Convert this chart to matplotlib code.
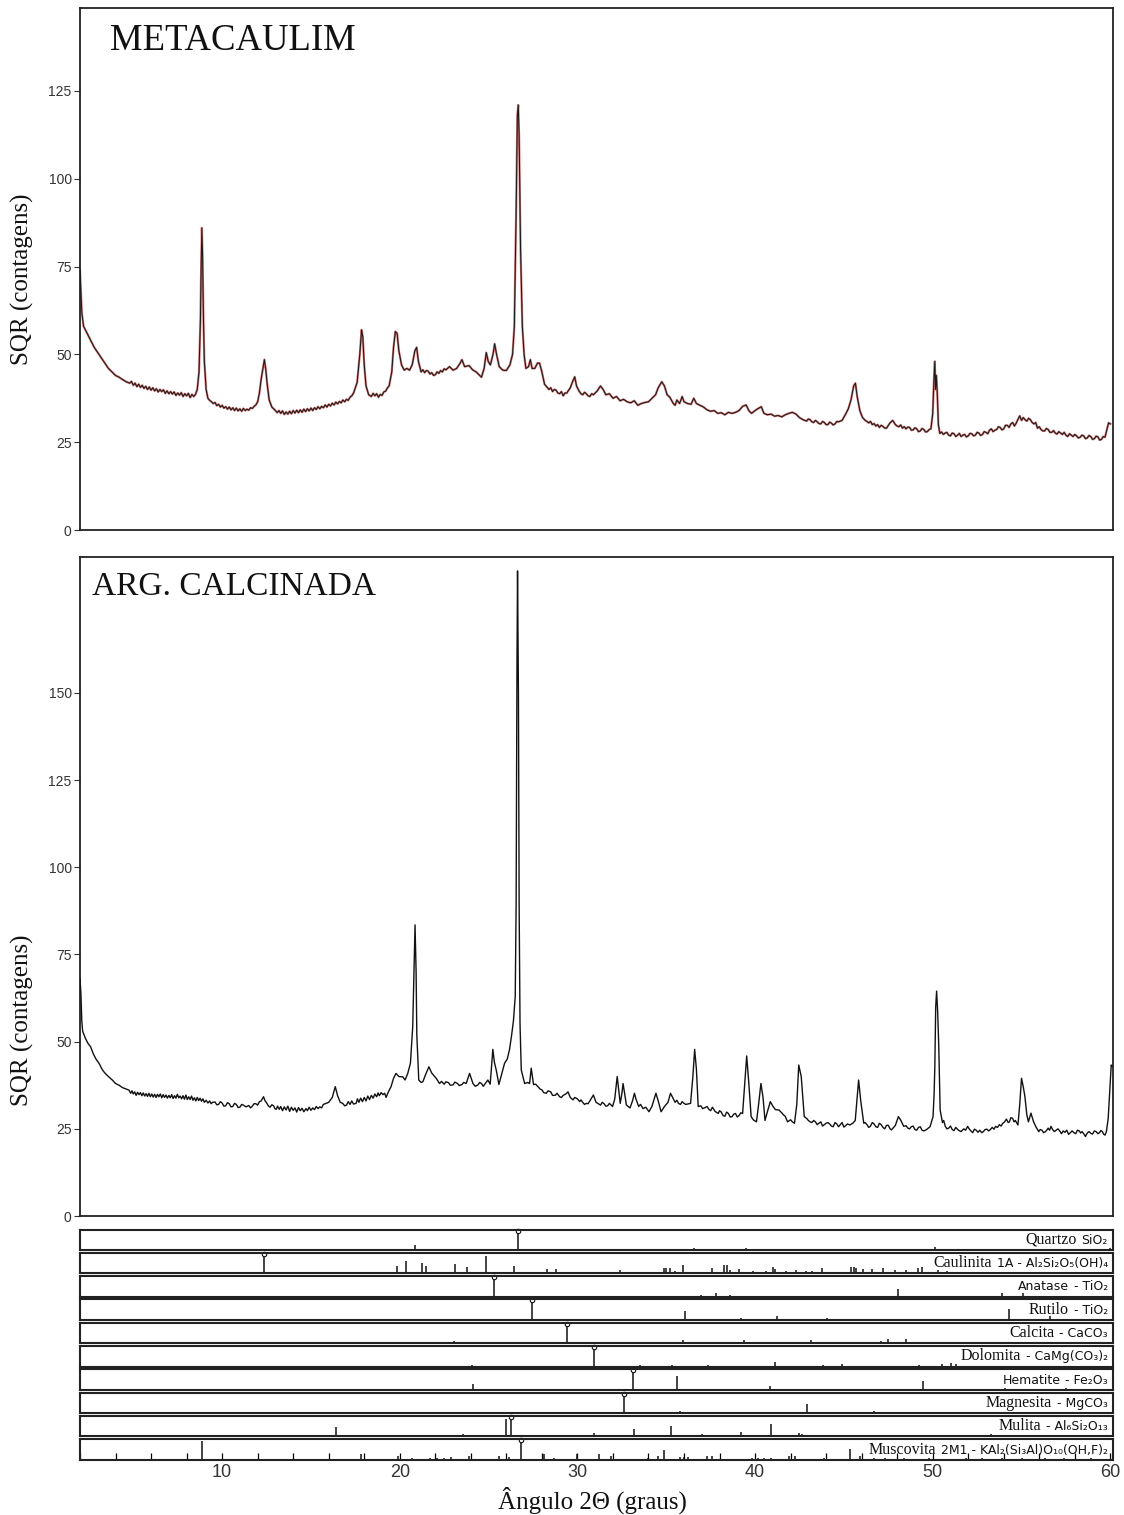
import matplotlib
matplotlib.use("Agg")
import matplotlib.pyplot as plt
from matplotlib.ticker import MultipleLocator

# ---------------- data: METACAULIM pattern (2theta, counts) ----------------
meta_pts = [
    (2.0, 74), (2.05, 68), (2.1, 62), (2.2, 58), (2.4, 56), (2.6, 54), (2.8, 52), (3.0, 50.5),
    (3.2, 49), (3.4, 47.5), (3.6, 46), (3.8, 45), (4.0, 44), (4.2, 43.5), (4.4, 42.8), (4.6, 42.2),
    (4.8, 41.8), (4.9, 42.3), (5.0, 41.2), (5.1, 41.8), (5.2, 40.8), (5.3, 41.5), (5.4, 40.6),
    (5.5, 41.2), (5.6, 40.3), (5.7, 40.9), (5.8, 40.0), (5.9, 40.7), (6.0, 39.8), (6.1, 40.5),
    (6.2, 39.6), (6.3, 40.2), (6.4, 39.3), (6.5, 40.0), (6.6, 39.4), (6.7, 39.9), (6.8, 38.9),
    (6.9, 39.6), (7.0, 38.8), (7.1, 39.4), (7.2, 38.7), (7.3, 39.3), (7.4, 38.3), (7.5, 39.0),
    (7.6, 38.4), (7.7, 39.1), (7.8, 38.0), (7.9, 38.8), (8.0, 38.2), (8.1, 38.9), (8.2, 37.7),
    (8.3, 38.6), (8.4, 38.0), (8.5, 38.6), (8.6, 40), (8.7, 45), (8.78, 60), (8.82, 75),
    (8.86, 86), (8.9, 78), (8.95, 60), (9.0, 48), (9.1, 40), (9.2, 37.5), (9.3, 36.9), (9.4, 36.5),
    (9.5, 36.0), (9.6, 36.3), (9.7, 35.4), (9.8, 35.8), (9.9, 35.0), (10.0, 35.5), (10.1, 34.7),
    (10.2, 35.1), (10.3, 34.4), (10.4, 35.0), (10.5, 34.2), (10.6, 34.8), (10.7, 34.0), (10.8, 34.7),
    (10.9, 33.9), (11.0, 34.5), (11.1, 33.8), (11.2, 34.6), (11.3, 34.0), (11.4, 34.4), (11.5, 34.1),
    (11.6, 34.8), (11.7, 34.6), (11.8, 35.2), (11.9, 35.6), (12.0, 36.5), (12.1, 39), (12.2, 43),
    (12.3, 46), (12.38, 48.5), (12.45, 46), (12.55, 41), (12.65, 37), (12.8, 35), (12.9, 34.5),
    (13.0, 34), (13.1, 33.4), (13.2, 34.0), (13.3, 33.2), (13.4, 33.9), (13.5, 32.9), (13.6, 33.6),
    (13.7, 33.0), (13.8, 33.8), (13.9, 33.1), (14.0, 34.0), (14.1, 33.3), (14.2, 34.1), (14.3, 33.4),
    (14.4, 34.2), (14.5, 33.5), (14.6, 34.4), (14.7, 33.7), (14.8, 34.5), (14.9, 33.9), (15.0, 34.7),
    (15.1, 34.0), (15.2, 34.8), (15.3, 34.3), (15.4, 35.1), (15.5, 34.5), (15.6, 35.2), (15.7, 34.8),
    (15.8, 35.6), (15.9, 35.0), (16.0, 35.8), (16.1, 35.3), (16.2, 36.1), (16.3, 35.6), (16.4, 36.4),
    (16.5, 35.9), (16.6, 36.6), (16.7, 36.2), (16.8, 37.0), (16.9, 36.5), (17.0, 37.2), (17.1, 36.9),
    (17.2, 37.8), (17.3, 38.2),
    (17.4, 39), (17.6, 42), (17.75, 50), (17.85, 57), (17.92, 55), (18.0, 47), (18.1, 41),
    (18.25, 38.5), (18.4, 38), (18.5, 38.9), (18.6, 38.2), (18.7, 38.8), (18.8, 37.8), (18.9, 38.6),
    (19.0, 38.3), (19.1, 39.3), (19.2, 39.5), (19.3, 40.4), (19.4, 41),
    (19.55, 45), (19.65, 52), (19.75, 56.5), (19.85, 56), (19.95, 51), (20.1, 47), (20.25, 45.5),
    (20.4, 46), (20.55, 45.5), (20.7, 47), (20.85, 51), (20.95, 52), (21.05, 48), (21.2, 45),
    (21.3, 45.6), (21.4, 44.8), (21.5, 45.4), (21.6, 45.2), (21.7, 44.4), (21.8, 44.8), (21.9, 44.0),
    (22.0, 44.2), (22.1, 45.0), (22.2, 44.6), (22.3, 45.4), (22.4, 45), (22.5, 45.9), (22.6, 45.6),
    (22.8, 46.5), (23.0, 45.5), (23.2, 46), (23.4, 47.5), (23.5, 48.5), (23.65, 46.5), (23.9, 46.8),
    (24.1, 45.6), (24.3, 45), (24.5, 44), (24.6, 43.5), (24.75, 46), (24.87, 50.5), (24.98, 48),
    (25.1, 47), (25.25, 50), (25.34, 53), (25.45, 50), (25.6, 46.5), (25.8, 45.5), (26.0, 45.4),
    (26.2, 47), (26.35, 50), (26.45, 58), (26.55, 90), (26.62, 118), (26.67, 121), (26.72, 112),
    (26.8, 80), (26.9, 58), (27.0, 50), (27.1, 46), (27.25, 46.5), (27.35, 48.5), (27.45, 46),
    (27.6, 46), (27.75, 47.5), (27.87, 47.5), (28.0, 45), (28.15, 41.5), (28.3, 40.6), (28.4, 40),
    (28.5, 40.5), (28.6, 39.4), (28.7, 40.0), (28.8, 39.8), (28.9, 39.0), (29.0, 38.8), (29.1, 39.4),
    (29.2, 38.2), (29.3, 39.0), (29.4, 39), (29.6, 40.5), (29.75, 42.5), (29.85, 43.6),
    (29.95, 41), (30.1, 39.5), (30.2, 38.8), (30.3, 38.5), (30.4, 39.2), (30.5, 38.8), (30.6, 38.2),
    (30.7, 38), (30.8, 38.8), (30.9, 38.5), (31.1, 39.5),
    (31.3, 41), (31.45, 40), (31.6, 38.5), (31.8, 38.8), (32.0, 37.5), (32.2, 38), (32.4, 36.8),
    (32.6, 37.2), (32.8, 36.5), (33.0, 36.2), (33.2, 36.8), (33.4, 35.5), (33.6, 36), (33.8, 36.3),
    (34.0, 36.5), (34.2, 37.5), (34.4, 38.5), (34.55, 40.5), (34.75, 42.2), (34.9, 41), (35.05, 38.5),
    (35.2, 37.8), (35.4, 36), (35.5, 35.5), (35.6, 37), (35.75, 36), (35.9, 38), (36.0, 36.5),
    (36.2, 36), (36.4, 35.8), (36.55, 37.5), (36.7, 36), (36.9, 35.5), (37.1, 35), (37.3, 34.2),
    (37.5, 33.8), (37.7, 34), (37.9, 33.2), (38.1, 33.4), (38.3, 32.8), (38.5, 33.5), (38.7, 33.2),
    (38.9, 33.5), (39.1, 34), (39.3, 35.2), (39.5, 35.6), (39.65, 34), (39.8, 33.2), (40.0, 34),
    (40.15, 34.5), (40.35, 35.1), (40.5, 33.2), (40.7, 32.8), (40.9, 33), (41.1, 32.4), (41.3, 32.6),
    (41.5, 32.2), (41.7, 32.8), (41.9, 33.2), (42.1, 33.5), (42.3, 33), (42.5, 32), (42.7, 31.4),
    (42.9, 31), (43.0, 31.6), (43.1, 31.4), (43.2, 30.8), (43.3, 30.6), (43.4, 31.2), (43.5, 30.8),
    (43.6, 30.3), (43.7, 30.2), (43.8, 30.9), (43.9, 30.6), (44.0, 30.0), (44.1, 30), (44.2, 30.7),
    (44.3, 30.4), (44.4, 29.9), (44.5, 30.2), (44.6, 30.9), (44.7, 30.8), (44.9, 31.2), (45.1, 33),
    (45.25, 34.5), (45.4, 37),
    (45.55, 41), (45.65, 41.8), (45.75, 38), (45.9, 34), (46.05, 32), (46.2, 31.2), (46.3, 30.9),
    (46.4, 30.5), (46.5, 30.9), (46.6, 30), (46.7, 30.3), (46.8, 29.6), (46.9, 30.0), (47.0, 29.2),
    (47.1, 29.8), (47.2, 29.5), (47.3, 29.0), (47.4, 29), (47.6, 30.5), (47.75, 31.2),
    (47.9, 30), (48.0, 29.6), (48.1, 29.4), (48.2, 29.9), (48.3, 29), (48.4, 29.4), (48.5, 28.8),
    (48.6, 29.3), (48.7, 29.2), (48.8, 28.4), (48.9, 28.5), (49.0, 29.1), (49.1, 28.8), (49.2, 28.0),
    (49.3, 28.2), (49.4, 28.9), (49.5, 28.6), (49.6, 27.9), (49.7, 28), (49.8, 28.6), (49.9, 28.8),
    (50.0, 33), (50.08, 44), (50.12, 48),
    (50.16, 40), (50.2, 44), (50.25, 40), (50.32, 30), (50.4, 27.5), (50.5, 27.9), (50.6, 27.2),
    (50.7, 27.6), (50.8, 27.8), (50.9, 27.0), (51.0, 26.8), (51.1, 27.6), (51.2, 27.4), (51.3, 26.6),
    (51.4, 27), (51.5, 27.5), (51.6, 26.6), (51.7, 27.0), (51.8, 27.2), (51.9, 26.5), (52.0, 26.8),
    (52.1, 27.5), (52.2, 27.4), (52.3, 26.8), (52.4, 27), (52.5, 27.8), (52.6, 27.6), (52.7, 26.9),
    (52.8, 27.2), (52.9, 28.0), (53.0, 27.8), (53.1, 27.4), (53.2, 28.4), (53.3, 28.8), (53.4, 28),
    (53.5, 28.4), (53.6, 28.6), (53.7, 29.4), (53.8, 29.2), (53.9, 28.5), (54.0, 28.8), (54.1, 29.8),
    (54.2, 29.8), (54.3, 29.2), (54.4, 30.2), (54.5, 30.6), (54.6, 29.6), (54.7, 30.4), (54.8, 31.5),
    (54.9, 32.5), (55.0, 31.2), (55.1, 32), (55.2, 31.4), (55.3, 31), (55.4, 31.8), (55.5, 31.4),
    (55.6, 30.6), (55.7, 30.2), (55.8, 30.6), (55.9, 29), (56.0, 29.4), (56.1, 28.6), (56.2, 28.2),
    (56.3, 28.2), (56.4, 28.9), (56.5, 28.6), (56.6, 27.8), (56.7, 27.8), (56.8, 28.3), (56.9, 27.6),
    (57.0, 27.3), (57.1, 28), (57.2, 27.6), (57.3, 27.2), (57.4, 27.8), (57.5, 27), (57.6, 26.6),
    (57.7, 27.4), (57.8, 27.0), (57.9, 26.6), (58.0, 27.2), (58.1, 26.8), (58.2, 26.2), (58.3, 26.4),
    (58.4, 27.0), (58.5, 26.8), (58.6, 26.0), (58.7, 26.2), (58.8, 26.9), (58.9, 26.6), (59.0, 25.8),
    (59.1, 26), (59.2, 26.7), (59.3, 26.5), (59.4, 25.6), (59.5, 25.8), (59.6, 26.6), (59.7, 26.4),
    (59.8, 28.5), (59.9, 30.5), (60.0, 30.2),
]

# ---------------- data: ARG. CALCINADA pattern (2theta, counts) ----------------
arg_pts = [
    (2.0, 68), (2.05, 64), (2.1, 56), (2.15, 53), (2.3, 51), (2.45, 49.5), (2.6, 48.5), (2.75, 46.5),
    (2.9, 45), (3.07, 43.8), (3.25, 42), (3.4, 41), (3.6, 40), (3.82, 39), (4.0, 38), (4.2, 37.5),
    (4.4, 36.8), (4.6, 36.4), (4.76, 36.1), (4.85, 35.2), (4.93, 35.9), (5.0, 35.0), (5.08, 35.6),
    (5.16, 34.6), (5.24, 35.5), (5.32, 34.8), (5.4, 35.4), (5.48, 34.5), (5.56, 35.3), (5.64, 34.4),
    (5.72, 35.1), (5.8, 34.3), (5.88, 35.2), (5.96, 34.2), (6.04, 35.0), (6.12, 34.1), (6.2, 34.9),
    (6.28, 34.0), (6.36, 34.9), (6.44, 34.2), (6.52, 35.0), (6.6, 33.9), (6.68, 34.8), (6.76, 34.0),
    (6.84, 34.7), (6.92, 33.8), (7.0, 34.6), (7.08, 33.9), (7.16, 34.8), (7.24, 33.7), (7.32, 34.5),
    (7.4, 33.8), (7.48, 34.9), (7.56, 33.9), (7.64, 34.4), (7.72, 33.6), (7.8, 34.5), (7.88, 33.5),
    (7.96, 34.7), (8.04, 33.4), (8.12, 34.2), (8.2, 33.4), (8.28, 34.4), (8.36, 33.2), (8.44, 33.9),
    (8.52, 33.0), (8.6, 34.0), (8.68, 33.1), (8.76, 33.8), (8.84, 32.9), (8.92, 33.6), (9.0, 32.6),
    (9.1, 33.2), (9.2, 32.4), (9.3, 33.0), (9.38, 32.2), (9.46, 32.6), (9.6, 32.7), (9.7, 31.9),
    (9.8, 32.0), (9.9, 32.8), (10.0, 32.4), (10.1, 31.5), (10.2, 31.6), (10.3, 32.5), (10.4, 32.2),
    (10.5, 31.3), (10.6, 31.4), (10.7, 32.3), (10.8, 32.0), (10.9, 31.1), (11.0, 31.2), (11.1, 32.0),
    (11.2, 31.8), (11.34, 31.3), (11.5, 31.7), (11.6, 31.0), (11.7, 31.5), (11.8, 32.2), (11.9, 32.2),
    (12.0, 31.8), (12.1, 32.8), (12.2, 33.0), (12.33, 34.2), (12.42, 33.0), (12.5, 32.5), (12.6, 31.6),
    (12.7, 31.2), (12.8, 31.9), (12.9, 31.6), (12.97, 30.8), (13.05, 30.6), (13.12, 31.5),
    (13.22, 30.6), (13.3, 31.4), (13.4, 30.2), (13.5, 31.3), (13.6, 30.4), (13.7, 31.5), (13.8, 30.0),
    (13.9, 31.2), (14.0, 30.3), (14.1, 31.0), (14.2, 29.8), (14.3, 31.1), (14.4, 30.2), (14.5, 30.9),
    (14.6, 29.9), (14.72, 30.8), (14.8, 30.2), (14.9, 31.2), (15.0, 30.3), (15.1, 31.0), (15.2, 30.5),
    (15.3, 31.4), (15.4, 30.8), (15.5, 31.3), (15.6, 31.0), (15.7, 32.0), (15.85, 32.3), (16.0, 32.6),
    (16.2, 34), (16.37, 37.1), (16.5, 34.5), (16.65, 32.6), (16.79, 32.3), (16.9, 31.6), (17.0, 31.8),
    (17.1, 32.8), (17.2, 32.0), (17.3, 33.0), (17.4, 32.1), (17.54, 32.3), (17.62, 33.6), (17.7, 32.6),
    (17.8, 33.8), (17.9, 32.8), (18.0, 34.0), (18.1, 33.0), (18.2, 34.4), (18.3, 33.4), (18.4, 34.6),
    (18.5, 33.8), (18.6, 35.0), (18.7, 34.2), (18.78, 35.3), (18.85, 34.5), (18.95, 35.4),
    (19.05, 34.8), (19.15, 35.2), (19.23, 34.0), (19.35, 35.5), (19.51, 37.1), (19.65, 39.5),
    (19.79, 40.9), (19.95, 40.0), (20.17, 39.9), (20.3, 39.0), (20.45, 40.9), (20.6, 43.8),
    (20.73, 54.3), (20.8, 70), (20.86, 83.5), (20.92, 70), (20.96, 52), (21.07, 39), (21.2, 38.3),
    (21.3, 38.5), (21.45, 40.5), (21.64, 42.8), (21.8, 41), (22.05, 39.5), (22.24, 38), (22.35, 38.6),
    (22.5, 37.8), (22.6, 38.5), (22.75, 38.2), (22.85, 37.5), (23.0, 37.6), (23.1, 38.4), (23.25, 38.0),
    (23.35, 37.4), (23.5, 37.7), (23.6, 38.3), (23.74, 38), (23.93, 40.9), (24.12, 38), (24.25, 37.2),
    (24.4, 37.6), (24.5, 38.3), (24.6, 38), (24.7, 37.2), (24.77, 37.7), (24.96, 39), (25.09, 37.8),
    (25.17, 43), (25.24, 47.8),
    (25.33, 44), (25.43, 41.9), (25.58, 37.7), (25.75, 41), (25.9, 43.8), (26.05, 45), (26.18, 47.8),
    (26.3, 52), (26.4, 56), (26.5, 63), (26.55, 89), (26.6, 160), (26.63, 185), (26.68, 150),
    (26.72, 89), (26.77, 55), (26.84, 41.9), (27.03, 38), (27.2, 38.3), (27.31, 38), (27.4, 42.4),
    (27.53, 37.7), (27.65, 37.8), (27.78, 37.1), (27.9, 36.4), (28.0, 36.2), (28.1, 35.4),
    (28.25, 35.2), (28.35, 35.9), (28.5, 35.6), (28.6, 34.6), (28.75, 34.6), (28.85, 35.2),
    (29.0, 34.2), (29.1, 34.0), (29.2, 34.6), (29.35, 35.0), (29.47, 35.6), (29.6, 34.0), (29.75, 33.3),
    (29.85, 34.0), (30.0, 33.6), (30.13, 32.8), (30.2, 33.3), (30.3, 32.6), (30.4, 32.0),
    (30.5, 32.3), (30.6, 32.2), (30.7, 33.0), (30.9, 34.7), (31.05, 32.6), (31.15, 32.3),
    (31.3, 31.8), (31.4, 32.6), (31.5, 32.2), (31.6, 31.5), (31.7, 31.6), (31.8, 32.3), (31.98, 31.4),
    (32.1, 33.5), (32.24, 40), (32.35, 35), (32.41, 32.3), (32.5, 35), (32.57, 38),
    (32.66, 35), (32.76, 31.8), (32.96, 31), (33.1, 33), (33.21, 35.2), (33.3, 33.5), (33.45, 31.4),
    (33.55, 32.0), (33.7, 30.8), (33.85, 31.2), (34.03, 29.9), (34.2, 31.5), (34.42, 35.2),
    (34.55, 33), (34.71, 29.9), (34.9, 31.4), (35.1, 32.6), (35.24, 35.2), (35.4, 33.6), (35.5, 32.6),
    (35.6, 33.2), (35.69, 32.3), (35.8, 32.0), (35.9, 32.8), (36.0, 32.3), (36.1, 32.0),
    (36.37, 32.3), (36.5, 40), (36.6, 47.8), (36.7, 42), (36.8, 31.4), (36.95, 31.6), (37.05, 30.8),
    (37.15, 31), (37.3, 31.4), (37.4, 30.6), (37.5, 30.2), (37.6, 31.2), (37.75, 30.0), (37.93, 29.4),
    (38.0, 30.2), (38.1, 29.8), (38.2, 28.8), (38.3, 28.6), (38.4, 29.8), (38.5, 29.4), (38.6, 28.4),
    (38.71, 28.5), (38.8, 29.2), (38.9, 29.4), (39.0, 28.4), (39.1, 28.8), (39.2, 29.6), (39.3, 29.4),
    (39.42, 38), (39.53, 45.9), (39.65, 38), (39.78, 28.5), (39.9, 27.6), (40.08, 27),
    (40.2, 32), (40.33, 38), (40.45, 34), (40.56, 27.4), (40.7, 30), (40.86, 32.8), (41.0, 31.5),
    (41.15, 30.5), (41.35, 30.4), (41.5, 29.6), (41.6, 29.0), (41.7, 28.6), (41.83, 27), (42.0, 27.6),
    (42.1, 27.0), (42.22, 26.6), (42.35, 32), (42.46, 43.3), (42.6, 40), (42.77, 28.5), (42.9, 28.0),
    (43.0, 27.4), (43.1, 27.0), (43.2, 26.8), (43.3, 27.4), (43.4, 27.0), (43.5, 26.2), (43.59, 26.6),
    (43.7, 27.0), (43.8, 25.8), (43.9, 26.2), (44.0, 26.6), (44.1, 26.8), (44.2, 26.4), (44.3, 25.8),
    (44.4, 25.6), (44.5, 26.8), (44.6, 26.4), (44.7, 25.6), (44.8, 26.2), (44.9, 26.8), (45.0, 25.5),
    (45.1, 25.9), (45.2, 26.4), (45.34, 26.1), (45.5, 26.6), (45.64, 27.4), (45.75, 34),
    (45.83, 39), (45.95, 33), (46.12, 26.6), (46.2, 26.8), (46.3, 26.2), (46.4, 25.4), (46.5, 25.8),
    (46.6, 26.8), (46.7, 26.4), (46.8, 25.6), (46.9, 25.4), (47.0, 26.6), (47.1, 26.2), (47.2, 25.4),
    (47.3, 25.0), (47.4, 26.0), (47.5, 26.0), (47.6, 25.0), (47.68, 24.7), (47.8, 25.4), (47.9, 26),
    (48.07, 28.5), (48.2, 27.5), (48.37, 25.7), (48.5, 25.9), (48.6, 25.2), (48.7, 25.0),
    (48.8, 25.6), (48.9, 25.8), (49.0, 24.8), (49.1, 24.6), (49.2, 25.4), (49.3, 25.6), (49.4, 24.6),
    (49.5, 24.4), (49.63, 24.7), (49.75, 25.2), (49.85, 25.6), (50.02, 28.5),
    (50.08, 35), (50.12, 42.8), (50.17, 60), (50.22, 64.5), (50.28, 58.6), (50.34, 49), (50.42, 30.4),
    (50.55, 26.8), (50.62, 27.4), (50.71, 25.7), (50.8, 25.0), (50.9, 25.2), (51.0, 25.8),
    (51.1, 24.8), (51.2, 24.5), (51.3, 25.4), (51.45, 24.6), (51.59, 24.2), (51.75, 25),
    (51.85, 24.6), (51.97, 25.7), (52.05, 25.0), (52.15, 24.4), (52.25, 23.9), (52.35, 24.9),
    (52.45, 24.6), (52.55, 24.0), (52.65, 24.6), (52.76, 23.9), (52.85, 24.2), (52.95, 24.8),
    (53.05, 24.9), (53.15, 24.4), (53.25, 24.8), (53.35, 25.4), (53.45, 24.9), (53.54, 25.7),
    (53.65, 25.4), (53.75, 26.2), (53.85, 25.8), (53.95, 26.6), (54.05, 27.0), (54.15, 27.8),
    (54.25, 26.8), (54.32, 27), (54.4, 28.2), (54.5, 28), (54.58, 27.0), (54.65, 27.4), (54.8, 26.1),
    (54.9, 32), (55.0, 39.5), (55.1, 37), (55.19, 34.3),
    (55.3, 29), (55.39, 27.0), (55.53, 29.5), (55.68, 27.0), (55.82, 25.5), (55.97, 24.2), (56.05, 24.8),
    (56.15, 24.6), (56.25, 23.9), (56.35, 24.2), (56.45, 24.8), (56.5, 25.2), (56.58, 24.6),
    (56.66, 25.7), (56.75, 24.8), (56.85, 24.2), (56.95, 24.6), (57.05, 25), (57.15, 24.4),
    (57.25, 23.6), (57.35, 24.4), (57.44, 24), (57.55, 24.6), (57.65, 23.4), (57.75, 23.9),
    (57.85, 24.4), (57.95, 23.9), (58.05, 23.6), (58.15, 24.6), (58.25, 24.4), (58.33, 23.8),
    (58.41, 24.2), (58.5, 23.6), (58.6, 22.8), (58.7, 23.8), (58.8, 24.2), (58.9, 23.7), (59.0, 23.5),
    (59.1, 24.4), (59.2, 24.2), (59.3, 23.6), (59.39, 23.9), (59.47, 24.5), (59.55, 24.2), (59.62, 23.5),
    (59.7, 23.2), (59.78, 24.2), (59.88, 28),
    (59.97, 36), (60.05, 43.3), (60.1, 43),
]

# ---------------- data: reference phases (position, relative height) ----------------
quartzo_pos = [20.86, 26.64, 36.54, 39.47, 40.29, 42.45, 45.79, 50.14, 54.87, 59.96]
quartzo_int = [0.22, 0.95, 0.12, 0.08, 0.05, 0.07, 0.05, 0.14, 0.05, 0.08]

caulinita_pos = [12.36, 19.86, 20.36, 21.24, 21.46, 23.12, 23.76, 24.88, 26.12, 26.44, 28.3, 28.78,
                 32.4, 34.85, 35.0, 35.2, 35.5, 35.95, 37.55, 38.25, 38.4, 38.6, 39.1, 39.9, 40.6,
                 41.0, 41.15, 41.75, 42.3, 42.85, 43.2, 43.75, 45.4, 45.55, 45.7, 46.05, 46.6, 47.2,
                 47.9, 48.5, 49.15, 49.4, 50.3, 50.8]
caulinita_int = [0.95, 0.36, 0.6, 0.48, 0.36, 0.43, 0.3, 0.83, 0.08, 0.36, 0.22, 0.22,
                 0.18, 0.25, 0.28, 0.25, 0.1, 0.4, 0.25, 0.4, 0.4, 0.15, 0.22, 0.1, 0.1,
                 0.3, 0.2, 0.1, 0.15, 0.1, 0.1, 0.25, 0.3, 0.3, 0.25, 0.2, 0.2, 0.25,
                 0.15, 0.15, 0.25, 0.3, 0.15, 0.1]

anatase_pos = [25.3, 36.95, 37.8, 38.57, 48.05, 53.9, 55.06]
anatase_int = [0.95, 0.06, 0.2, 0.08, 0.35, 0.2, 0.2]

rutilo_pos = [27.45, 36.08, 39.2, 41.23, 44.05, 54.3, 56.6]
rutilo_int = [0.95, 0.45, 0.08, 0.2, 0.08, 0.55, 0.18]

calcita_pos = [23.05, 29.4, 31.4, 35.97, 39.4, 43.15, 47.1, 47.5, 48.5, 56.55, 57.4]
calcita_int = [0.1, 0.95, 0.05, 0.14, 0.18, 0.18, 0.1, 0.2, 0.2, 0.05, 0.08]

dolomita_pos = [24.05, 30.94, 33.55, 35.3, 37.35, 41.1, 43.8, 44.9, 49.25, 50.5, 51.05, 51.3]
dolomita_int = [0.05, 0.95, 0.05, 0.05, 0.05, 0.22, 0.05, 0.1, 0.08, 0.12, 0.15, 0.12]

hematite_pos = [24.14, 33.15, 35.61, 40.85, 49.48, 54.09, 57.5]
hematite_int = [0.3, 0.95, 0.65, 0.2, 0.45, 0.1, 0.1]

magnesita_pos = [32.6, 35.8, 42.95, 46.7]
magnesita_int = [0.95, 0.1, 0.45, 0.1]

mulita_pos = [16.43, 23.55, 26.0, 26.27, 30.96, 33.2, 35.26, 37.0, 39.2, 40.87, 42.45, 42.65,
              48.0, 49.3, 53.3]
mulita_int = [0.45, 0.1, 0.85, 0.95, 0.15, 0.35, 0.5, 0.1, 0.2, 0.6, 0.15, 0.1,
              0.05, 0.05, 0.1]

muscovita_pos = [8.84, 17.8, 19.9, 20.7, 21.7, 22.1, 22.5, 22.9, 23.9, 25.6, 26.15, 26.85, 28.1,
                 28.7, 29.95, 31.2, 31.9, 34.0, 34.55, 34.85, 35.8, 36.0, 36.25, 37.3, 37.6, 39.85,
                 40.15, 40.5, 40.9, 41.9, 42.25, 43.9, 45.35, 45.9, 46.7, 47.3, 48.4, 49.8, 51.9,
                 52.8, 53.9, 55.0, 56.3, 57.4, 58.9]
muscovita_int = [0.9, 0.3, 0.2, 0.08, 0.08, 0.1, 0.1, 0.12, 0.2, 0.2, 0.15, 0.95, 0.3,
                 0.1, 0.3, 0.3, 0.2, 0.1, 0.2, 0.45, 0.15, 0.15, 0.15, 0.2, 0.2, 0.1,
                 0.1, 0.1, 0.1, 0.2, 0.2, 0.1, 0.5, 0.2, 0.1, 0.1, 0.1, 0.1, 0.1,
                 0.1, 0.1, 0.1, 0.1, 0.1, 0.1]

phase_names = ["Quartzo", "Caulinita", "Anatase", "Rutilo", "Calcita", "Dolomita",
               "Hematite", "Magnesita", "Mulita", "Muscovita"]
phase_serif = [True, True, False, True, True, True, False, True, True, True]
phase_formulas = ["SiO₂", "1A - Al₂Si₂O₅(OH)₄", "- TiO₂", "- TiO₂", "- CaCO₃",
                  "- CaMg(CO₃)₂", "- Fe₂O₃", "- MgCO₃", "- Al₆Si₂O₁₃",
                  "2M1 - KAl₂(Si₃Al)O₁₀(OH,F)₂"]
phase_pos = [quartzo_pos, caulinita_pos, anatase_pos, rutilo_pos, calcita_pos,
             dolomita_pos, hematite_pos, magnesita_pos, mulita_pos, muscovita_pos]
phase_int = [quartzo_int, caulinita_int, anatase_int, rutilo_int, calcita_int,
             dolomita_int, hematite_int, magnesita_int, mulita_int, muscovita_int]

top_yticks = [0, 25, 50, 75, 100, 125]
bot_yticks = [0, 25, 50, 75, 100, 125, 150]
x_ticks = [10, 20, 30, 40, 50, 60]

# ---------------- figure ----------------
W, H = 1124, 1515
fig = plt.figure(figsize=(W / 100, H / 100), dpi=100)
SERIF = "Liberation Serif"
SANS = "Liberation Sans"
XMIN, XMAX = 2.0, 60.15


def fx(px):
    return px / W


def fy(py):
    return 1 - py / H


L, R = 80, 1113


def make_axes(top, bottom):
    return fig.add_axes([fx(L), fy(bottom), fx(R - L), (bottom - top) / H])


def style_pattern_axes(ax, yticks, ymax):
    ax.set_xlim(XMIN, XMAX)
    ax.set_ylim(0, ymax)
    ax.set_xticks([])
    ax.set_yticks(yticks)
    ax.tick_params(axis="y", direction="out", length=4, width=0.8, pad=2,
                   labelsize=10, labelcolor="#333333", color="#333333")
    for lab in ax.get_yticklabels():
        lab.set_fontfamily(SANS)
    for s in ax.spines.values():
        s.set_linewidth(1.3)
        s.set_color("#222222")


# top panel
ax1 = make_axes(8, 530)
mx = [p[0] for p in meta_pts]
my = [p[1] for p in meta_pts]
ax1.plot(mx, my, color="#c23b3b", lw=1.6, alpha=0.7, zorder=2)
ax1.plot(mx, my, color="#1a1a1a", lw=0.75, zorder=3)
style_pattern_axes(ax1, top_yticks, 148.6)
ax1.text(0.029, 0.9195, "METACAULIM", transform=ax1.transAxes, fontfamily=SERIF,
         fontsize=26.5, va="baseline", ha="left", color="#111111")

# bottom panel
ax2 = make_axes(557, 1216)
ax_ = [p[0] for p in arg_pts]
ay = [p[1] for p in arg_pts]
ax2.plot(ax_, ay, color="#111111", lw=1.0, zorder=3)
style_pattern_axes(ax2, bot_yticks, 189)
ax2.text(0.0116, 0.942, "ARG. CALCINADA", transform=ax2.transAxes, fontfamily=SERIF,
         fontsize=24, va="baseline", ha="left", color="#111111")

# y labels
fig.text(fx(22), fy(279), "SQR (contagens)", rotation=90, ha="center", va="center",
         fontfamily=SERIF, fontsize=18, color="#111111")
fig.text(fx(22), fy(1020), "SQR (contagens)", rotation=90, ha="center", va="center",
         fontfamily=SERIF, fontsize=18, color="#111111")

# phase strips
strip_top0, pitch, strip_h = 1229.5, 23.3, 20.5
for i in range(10):
    t = strip_top0 + i * pitch
    ax = make_axes(t, t + strip_h)
    ax.set_xlim(XMIN, XMAX)
    ax.set_ylim(0, 1)
    ax.set_yticks([])
    for s in ax.spines.values():
        s.set_linewidth(1.5)
        s.set_color("#222222")
    pos, inten = phase_pos[i], phase_int[i]
    ax.vlines(pos, 0, inten, colors="#111111", lw=1.1)
    k = inten.index(max(inten))
    ax.plot([pos[k]], [inten[k]], marker="o", ms=3.2, mfc="white", mec="#111111",
            mew=0.8, clip_on=False)
    # label: formula (sans) right aligned, name (serif or sans) to its left
    ft = ax.text(0.995, 0.3, phase_formulas[i], transform=ax.transAxes, ha="right",
                 va="baseline", fontfamily="DejaVu Sans", fontsize=9, color="#111111")
    if phase_serif[i]:
        fam, fs = SERIF, 11.5
    else:
        fam, fs = "DejaVu Sans", 9
    ax.annotate(phase_names[i], xy=(0, 0.3), xycoords=(ft, ax.transAxes),
                xytext=(-3.5, 0), textcoords="offset points", ha="right", va="baseline",
                fontfamily=fam, fontsize=fs, color="#111111")
    if i < 9:
        ax.set_xticks([])
    else:
        ax.xaxis.set_major_locator(MultipleLocator(10))
        ax.xaxis.set_minor_locator(MultipleLocator(2))
        ax.set_xticks(x_ticks)
        ax.tick_params(axis="x", which="both", direction="in", length=5, width=0.9,
                       labelsize=13, pad=3, labelcolor="#333333")
        for lab in ax.get_xticklabels():
            lab.set_fontfamily(SANS)

fig.text(fx(592), fy(1500), "Ângulo 2Θ (graus)", ha="center", va="center",
         fontfamily=SERIF, fontsize=18, color="#111111")

fig.savefig("out.png", dpi=100, facecolor="white")
